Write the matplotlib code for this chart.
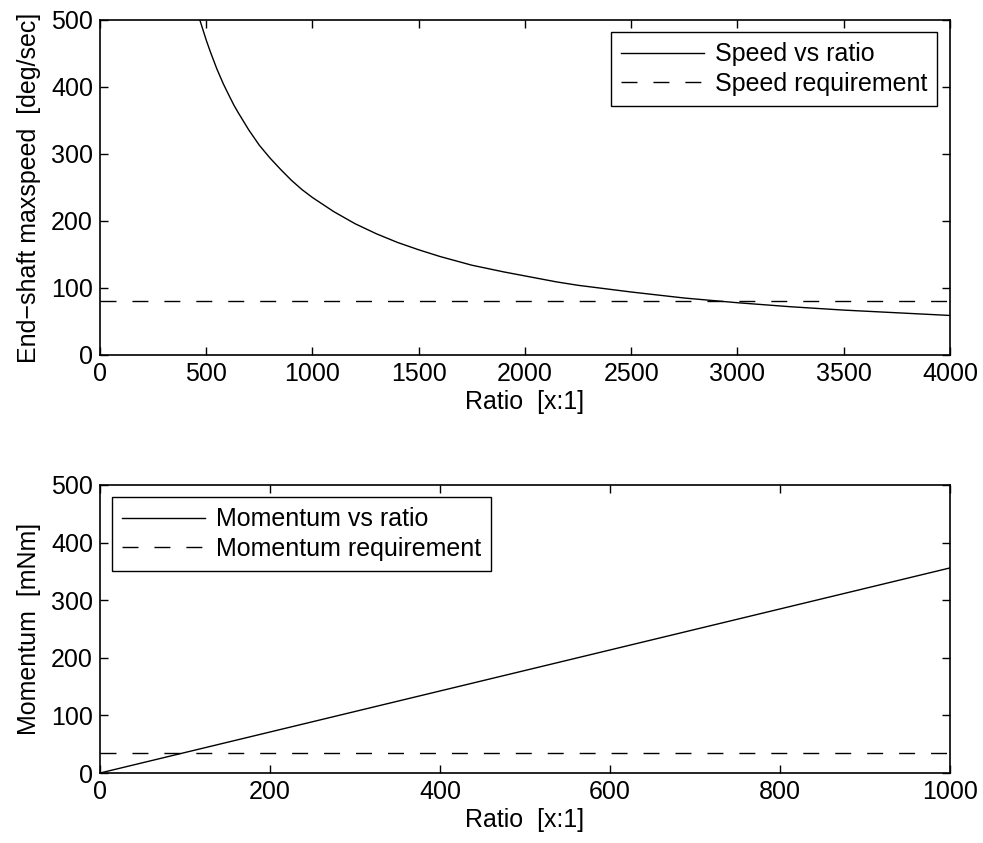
import matplotlib
matplotlib.use('Agg')
import matplotlib.pyplot as plt

# values
speed_ratio = [470, 480, 500, 520, 550, 580, 600, 630, 650, 700, 750, 800, 850, 900, 950,
               1000, 1100, 1200, 1300, 1400, 1500, 1600, 1750, 1900, 2000, 2150, 2250,
               2400, 2500, 2750, 3000, 3250, 3500, 3750, 4000]
speed_vals = [500, 490, 470, 452, 427, 405, 392, 373, 362, 336, 313, 294, 277, 261, 247,
              235, 214, 196, 181, 168, 157, 147, 134, 124, 118, 109, 104,
              98, 94, 85, 78, 72, 67, 63, 59]
speed_req = 81

mom_ratio = [0, 1000]
mom_vals = [0, 356]
mom_req = 35

plt.rcParams['font.family'] = ['Liberation Sans', 'DejaVu Sans']
plt.rcParams['font.size'] = 18

fig = plt.figure(figsize=(9.83, 8.43), dpi=100)

def style(ax):
    ax.tick_params(direction='in', top=True, right=True, length=6, width=1, labelsize=18, pad=5)
    for s in ax.spines.values():
        s.set_linewidth(1.2)

leg_kw = dict(fancybox=False, edgecolor='k', framealpha=1, handlelength=3.3,
              handletextpad=0.45, borderaxespad=0.5, borderpad=0.4, labelspacing=0.22)

# 1. speed vs ratio
ax1 = fig.add_axes([0.1017, 0.5789, 0.8647, 0.3974])
ax1.plot(speed_ratio, speed_vals, 'k-', lw=1, label='Speed vs ratio')
ax1.plot([0, 4000], [speed_req, speed_req], 'k--', lw=1, dashes=(11.5, 11.5), label='Speed requirement')
ax1.set_xlim(0, 4000)
ax1.set_ylim(0, 500)
ax1.set_xticks(range(0, 4001, 500))
ax1.set_yticks(range(0, 501, 100))
ax1.set_xlabel('Ratio  [x:1]', labelpad=3)
ax1.set_ylabel('End\u2212shaft maxspeed  [deg/sec]', labelpad=7)
style(ax1)
leg = ax1.legend(loc='upper right', **leg_kw)
leg.get_frame().set_linewidth(1)

# 2. momentum vs ratio
ax2 = fig.add_axes([0.1017, 0.0830, 0.8647, 0.3417])
ax2.plot(mom_ratio, mom_vals, 'k-', lw=1, label='Momentum vs ratio')
ax2.plot([0, 1000], [mom_req, mom_req], 'k--', lw=1, dashes=(11.5, 11.5), label='Momentum requirement')
ax2.set_xlim(0, 1000)
ax2.set_ylim(0, 500)
ax2.set_xticks(range(0, 1001, 200))
ax2.set_yticks(range(0, 501, 100))
ax2.set_xlabel('Ratio  [x:1]', labelpad=3)
ax2.set_ylabel('Momentum  [mNm]', labelpad=7)
style(ax2)
leg = ax2.legend(loc='upper left', **leg_kw)
leg.get_frame().set_linewidth(1)

plt.savefig('out.png')
plt.close()
